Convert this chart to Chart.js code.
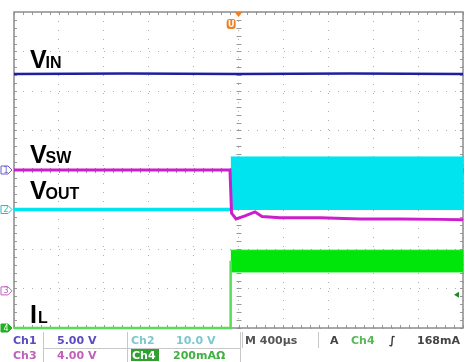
<!DOCTYPE html>
<html>
<head>
<meta charset="utf-8">
<script src="https://cdn.jsdelivr.net/npm/chart.js@4.4.1/dist/chart.umd.min.js"></script>
<style>
  body { margin: 0; background: #fff; }
  #wrap { width: 469px; height: 362px; position: relative; }
</style>
</head>
<body>
<div id="wrap"><canvas id="chart"></canvas></div>
<script>
'use strict';

// time in µs (400 µs/div), levels in screen divisions (0 = centre line)
const stepTime = -70;

const vinTime = [-2000, -1000, 0, 1000, 2000];
const vinLevel = [2.43, 2.44, 2.43, 2.44, 2.43];

const vswTime = [-2000, -76, -62, -22, 58, 147, 209, 370, 726, 1083, 1439, 1795, 2000];
const vswLevel = [0, 0, -1.09, -1.24, -1.16, -1.06, -1.18, -1.21, -1.21, -1.24, -1.24, -1.25, -1.26];

const voutTime = [-2000, stepTime];
const voutLevel = [-1.0, -1.0];
const voutBandTop = 0.33;
const voutBandBottom = -1.0;

const ilTime = [-2000, stepTime, stepTime];
const ilLevel = [-4.0, -4.0, -2.3];
const ilBandTop = -2.03;
const ilBandBottom = -2.58;

const channelNames = ['1', '2', '3', '4'];
const channelOffsets = [0, -1.0, -3.06, -4.0];
const channelColors = ['#6a5fd0', '#33b8c0', '#c060c0', '#20b020'];
const triggerLevel = -3.16;

const labelMain = ['V', 'V', 'V', 'I'];
const labelSub = ['IN', 'SW', 'OUT', 'L'];
const labelTime = [-1858, -1858, -1858, -1858];
const labelLevel = [2.58, 0.18, -0.73, -3.87];

const blue = 'rgb(30,30,160)';
const magenta = 'rgb(205,30,205)';
const cyan = 'rgb(0,228,240)';
const green = 'rgb(0,230,10)';

function pts(xs, ys) {
    return xs.map((x, i) => ({ x: x, y: ys[i] }));
}
function flat(x0, x1, y) {
    return [{ x: x0, y: y }, { x: x1, y: y }];
}

const scopePlugin = {
    id: 'scope',
    beforeDatasetsDraw(chart) {
        const ctx = chart.ctx;
        const a = chart.chartArea;
        const xs = chart.scales.x;
        const ys = chart.scales.y;
        const cx = xs.getPixelForValue(0);
        const cy = ys.getPixelForValue(0);
        ctx.save();
        ctx.strokeStyle = '#9a9a9a';
        ctx.lineWidth = 1;
        ctx.beginPath();
        // minor ticks along centre lines and edges
        for (let t = -2000; t <= 2000; t += 80) {
            const p = Math.round(xs.getPixelForValue(t)) + 0.5;
            ctx.moveTo(p, cy - 2); ctx.lineTo(p, cy + 3);
            ctx.moveTo(p, a.top); ctx.lineTo(p, a.top + 3);
            ctx.moveTo(p, a.bottom); ctx.lineTo(p, a.bottom - 3);
        }
        for (let d = -4; d <= 4; d += 0.2) {
            const p = Math.round(ys.getPixelForValue(d)) + 0.5;
            ctx.moveTo(cx - 2, p); ctx.lineTo(cx + 3, p);
            ctx.moveTo(a.left, p); ctx.lineTo(a.left + 3, p);
            ctx.moveTo(a.right, p); ctx.lineTo(a.right - 3, p);
        }
        ctx.stroke();

        // frame
        ctx.strokeStyle = '#8c8c8c';
        ctx.lineWidth = 1.5;
        ctx.strokeRect(a.left, a.top, a.right - a.left, a.bottom - a.top);
        ctx.restore();
    },
    afterDraw(chart) {
        const ctx = chart.ctx;
        const a = chart.chartArea;
        const xs = chart.scales.x;
        const ys = chart.scales.y;
        ctx.save();

        // trace labels
        ctx.fillStyle = '#000';
        ctx.textBaseline = 'alphabetic';
        labelMain.forEach((m, i) => {
            const x = xs.getPixelForValue(labelTime[i]);
            const y = ys.getPixelForValue(labelLevel[i]);
            ctx.font = 'bold 25px "Liberation Sans", Arial, sans-serif';
            ctx.fillText(m, x, y);
            const w = ctx.measureText(m).width;
            ctx.font = 'bold 16px "Liberation Sans", Arial, sans-serif';
            ctx.fillText(labelSub[i], x + w - (m === 'V' ? 1 : -1), y);
        });

        // channel ground markers
        channelNames.forEach((n, i) => {
            const y = ys.getPixelForValue(channelOffsets[i]);
            ctx.fillStyle = i === 3 ? channelColors[i] : '#fff';
            ctx.strokeStyle = channelColors[i];
            ctx.lineWidth = 1;
            ctx.beginPath();
            ctx.moveTo(1, y - 4); ctx.lineTo(8, y - 4); ctx.lineTo(12, y);
            ctx.lineTo(8, y + 4); ctx.lineTo(1, y + 4); ctx.closePath();
            ctx.fill(); ctx.stroke();
            ctx.fillStyle = i === 3 ? '#fff' : channelColors[i];
            ctx.font = '8px "DejaVu Sans", sans-serif';
            ctx.textAlign = 'center';
            ctx.textBaseline = 'middle';
            ctx.fillText(n, 6, y + 0.5);
        });

        // trigger position and level markers
        const tx = xs.getPixelForValue(0);
        ctx.fillStyle = '#f08020';
        ctx.beginPath();
        ctx.moveTo(tx - 4, a.top); ctx.lineTo(tx + 4, a.top); ctx.lineTo(tx, a.top + 5);
        ctx.closePath(); ctx.fill();
        const ux = xs.getPixelForValue(stepTime);
        ctx.beginPath();
        ctx.roundRect(ux - 4, a.top + 7, 9, 10, 3);
        ctx.fill();
        ctx.fillStyle = '#fff';
        ctx.font = 'bold 8px "DejaVu Sans", sans-serif';
        ctx.fillText('U', ux + 0.5, a.top + 12.5);

        const ly = ys.getPixelForValue(triggerLevel);
        ctx.fillStyle = '#208a20';
        ctx.beginPath();
        ctx.moveTo(a.right - 9, ly); ctx.lineTo(a.right - 4, ly - 3); ctx.lineTo(a.right - 4, ly + 3);
        ctx.closePath(); ctx.fill();

        // status bar
        ctx.strokeStyle = '#c8c8c8';
        ctx.lineWidth = 1;
        ctx.beginPath();
        [43.5, 127.5, 240.5].forEach(x => { ctx.moveTo(x, 332); ctx.lineTo(x, 362); });
        [242.5, 318.5].forEach(x => { ctx.moveTo(x, 332); ctx.lineTo(x, 348); });
        ctx.moveTo(43, 348.5); ctx.lineTo(240, 348.5);
        ctx.stroke();

        ctx.textAlign = 'left';
        ctx.textBaseline = 'alphabetic';
        ctx.font = 'bold 11px "DejaVu Sans", sans-serif';
        const row = (txt, x, y, col) => { ctx.fillStyle = col; ctx.fillText(txt, x, y); };
        row('Ch1', 13, 344, '#5a4cc0');
        row('5.00 V', 57, 344, '#5a4cc0');
        row('Ch2', 131, 344, '#7cc8d0');
        row('10.0 V', 176, 344, '#7cc8d0');
        row('M 400µs', 245, 344, '#555');
        row('A', 330, 344, '#444');
        row('Ch4', 351, 344, '#5ab85a');
        row('∫', 389, 344, '#333');
        row('168mA', 417, 344, '#444');
        row('Ch3', 13, 359, '#c060b8');
        row('4.00 V', 57, 359, '#c060b8');
        ctx.fillStyle = '#30a030';
        ctx.fillRect(131, 349, 28, 12);
        row('Ch4', 132, 359, '#fff');
        row('200mAΩ', 173, 359, '#40b040');

        ctx.restore();
    }
};

const datasets = [
    { data: pts(vinTime, vinLevel), borderColor: blue, borderWidth: 2.5 },
    { data: pts(vswTime, vswLevel), borderColor: magenta, borderWidth: 3 },
    { data: pts(voutTime, voutLevel), borderColor: cyan, borderWidth: 3.5 },
    { data: flat(stepTime, 2000, voutBandTop), borderColor: cyan, borderWidth: 1, backgroundColor: cyan, fill: '+1' },
    { data: flat(stepTime, 2000, voutBandBottom), borderColor: cyan, borderWidth: 1 },
    { data: pts(ilTime, ilLevel), borderColor: 'rgb(90,220,90)', borderWidth: 2.5, clip: 4 },
    { data: flat(stepTime, 2000, ilBandTop), borderColor: green, borderWidth: 1, backgroundColor: green, fill: '+1' },
    { data: flat(stepTime, 2000, ilBandBottom), borderColor: green, borderWidth: 1 }
];

new Chart(document.querySelector('#chart'), {
    type: 'line',
    data: { datasets: datasets },
    options: {
        responsive: true,
        maintainAspectRatio: false,
        animation: false,
        layout: { padding: { left: 14, top: 12, right: 6, bottom: 34 } },
        elements: { point: { radius: 0 }, line: { tension: 0, fill: false } },
        plugins: { legend: { display: false }, tooltip: { enabled: false } },
        scales: {
            x: {
                type: 'linear', min: -2000, max: 2000,
                ticks: { display: false, stepSize: 400 },
                grid: { color: '#b0b0b0', drawTicks: false, tickLength: 0 },
                border: { display: false, dash: [1, 8] }
            },
            y: {
                type: 'linear', min: -4, max: 4,
                ticks: { display: false, stepSize: 1 },
                grid: { color: '#b0b0b0', drawTicks: false, tickLength: 0 },
                border: { display: false, dash: [1, 8] }
            }
        }
    },
    plugins: [scopePlugin]
});
</script>
</body>
</html>
